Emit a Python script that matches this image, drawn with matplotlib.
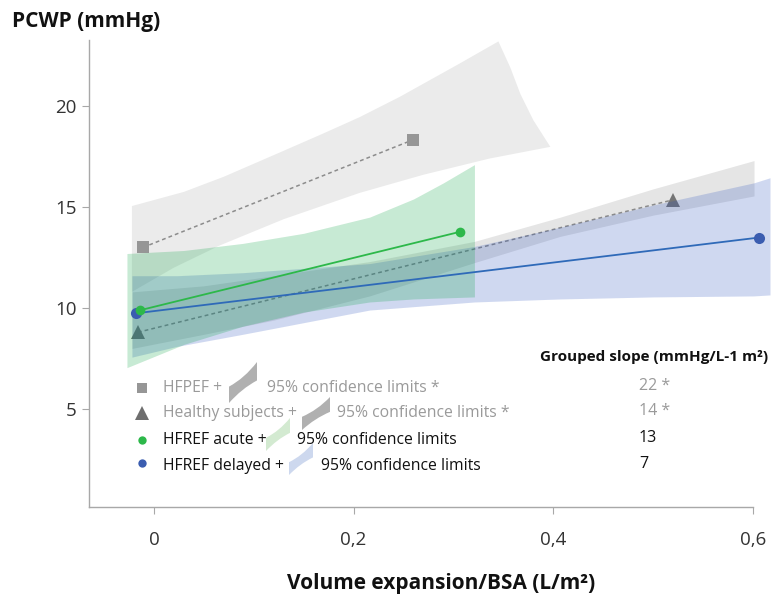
import numpy as np
import matplotlib.pyplot as plt
from matplotlib.path import Path
from matplotlib.patches import PathPatch

plt.rcParams['font.family'] = ['Open Sans', 'DejaVu Sans']

# group end points (volume expansion/BSA, PCWP)
hfpef_x = [-0.011, 0.259]
hfpef_y = [13.0, 18.32]
healthy_x = [-0.016, 0.52]
healthy_y = [8.8, 15.36]
acute_x = [-0.014, 0.307]
acute_y = [9.89, 13.78]
delayed_x = [-0.018, 0.606]
delayed_y = [9.74, 13.49]

# 95% confidence limits
hfpef_up_x = [-0.022, 0.03, 0.07, 0.126, 0.17, 0.206, 0.246, 0.306, 0.345,
              0.357, 0.367, 0.38, 0.397]
hfpef_up_y = [15.05, 15.75, 16.5, 17.7, 18.65, 19.45, 20.45, 22.1, 23.2,
              21.9, 20.6, 19.3, 17.98]
hfpef_lo_x = [0.397, 0.336, 0.27, 0.206, 0.13, 0.066, 0.02, -0.022]
hfpef_lo_y = [17.98, 17.4, 16.6, 15.7, 14.4, 13.1, 12.0, 10.8]

healthy_ci_x = [-0.022, 0.05, 0.12, 0.216, 0.321, 0.407, 0.5, 0.601]
healthy_ci_up = [10.8, 11.1, 11.6, 12.3, 13.3, 14.5, 15.9, 17.3]
healthy_ci_lo = [8.0, 8.7, 9.4, 10.6, 12.25, 13.55, 14.6, 15.55]

acute_ci_x = [-0.027, 0.03, 0.089, 0.15, 0.216, 0.26, 0.29, 0.321]
acute_ci_up = [12.7, 12.85, 13.2, 13.7, 14.5, 15.4, 16.2, 17.1]
acute_ci_lo = [7.05, 8.2, 9.1, 9.8, 10.3, 10.45, 10.5, 10.55]

delayed_ci_x = [-0.022, 0.023, 0.089, 0.216, 0.321, 0.407, 0.5, 0.601, 0.617]
delayed_ci_up = [11.6, 11.6, 11.75, 12.2, 13.05, 14.0, 15.1, 16.2, 16.45]
delayed_ci_lo = [7.57, 8.1, 8.7, 9.9, 10.3, 10.45, 10.55, 10.6, 10.65]

groups = ['HFPEF +', 'Healthy subjects +', 'HFREF acute +', 'HFREF delayed +']
ci_labels = ['95% confidence limits *', '95% confidence limits *',
             '95% confidence limits', '95% confidence limits']
slopes = ['22 *', '14 *', '13', '7']

W, H = 772, 599
fig = plt.figure(figsize=(W / 100, H / 100), dpi=100)
ax = fig.add_axes([89 / W, 1 - 507 / H, (W - 89) / W, (507 - 40) / H])
ax.set_xlim(-0.065, 0.619)
ax.set_ylim(0.15, 23.27)


def fx(px):
    return px / W


def fy(py):
    return 1 - py / H


grey_c = '#969696'
tri_c = '#6e6e6e'
green_c = '#2db84a'
blue_c = '#3b5db0'

# healthy subjects sit underneath the bands
ax.plot(healthy_x, healthy_y, ls=(0, (2.5, 2)), color='#8c8c8c', lw=1.1, zorder=1)
ax.plot(healthy_x, healthy_y, ls='none', marker='^', ms=10.5, color=tri_c,
        markeredgewidth=0, zorder=1)

ax.fill(hfpef_up_x + hfpef_lo_x, hfpef_up_y + hfpef_lo_y, color='#969696',
        alpha=0.19, lw=0, zorder=2)
ax.fill_between(healthy_ci_x, healthy_ci_lo, healthy_ci_up, color='#8a8a8a',
                alpha=0.22, lw=0, zorder=2)
ax.fill_between(delayed_ci_x, delayed_ci_lo, delayed_ci_up, color='#2850be',
                alpha=0.22, lw=0, zorder=2)
ax.fill_between(acute_ci_x, acute_ci_lo, acute_ci_up, color='#00a03c',
                alpha=0.22, lw=0, zorder=2)

ax.plot(hfpef_x, hfpef_y, ls=(0, (2.5, 2)), color='#8c8c8c', lw=1.1, zorder=3)
ax.plot(hfpef_x, hfpef_y, ls='none', marker='s', ms=8, color=grey_c,
        markeredgewidth=0, zorder=3)
ax.plot(acute_x, acute_y, color=green_c, lw=1.3, marker='o', ms=7,
        markeredgewidth=0, zorder=4)
ax.plot(delayed_x, delayed_y, color='#2f6ab8', lw=1.3, zorder=3)
ax.plot(delayed_x, delayed_y, ls='none', marker='o', ms=8, color=blue_c,
        markeredgewidth=0, zorder=3)

# axes styling
for s in ['top', 'right']:
    ax.spines[s].set_visible(False)
for s in ['left', 'bottom']:
    ax.spines[s].set_color('#a8a8a8')
    ax.spines[s].set_linewidth(1.0)
ax.spines['bottom'].set_bounds(-0.065, 0.6)
ax.set_xticks([0, 0.2, 0.4, 0.6])
ax.set_xticklabels(['0', '0,2', '0,4', '0,6'])
ax.set_yticks([5, 10, 15, 20])
ax.tick_params(axis='x', length=5, width=0.8, color='#a8a8a8', pad=12,
               labelsize=13.5, labelcolor='#333333')
ax.tick_params(axis='y', length=5, width=0.8, color='#a8a8a8', pad=4,
               labelsize=13.5, labelcolor='#333333')

fig.text(fx(12), fy(22), 'PCWP (mmHg)', fontsize=15, fontweight='bold',
         ha='left', va='center', color='#111111')
fig.text(fx(441), fy(584), 'Volume expansion/BSA (L/m²)', fontsize=15,
         fontweight='bold', ha='center', va='center', color='#111111')


def swoosh(x0, y0, w, h, color):
    # small band-shaped key drawn in pixel units (x0, y0 = lower-left)
    pts = [(0, 0), (0, 0.4), (0.55, 0.6), (1, 1), (1, 0.55), (0.45, 0.35), (0, 0)]
    verts = [(fx(x0 + w * u), fy(y0 - h * v)) for u, v in pts]
    codes = [Path.MOVETO, Path.LINETO, Path.CURVE3, Path.CURVE3,
             Path.LINETO, Path.CURVE3, Path.CURVE3]
    fig.add_artist(PathPatch(Path(verts, codes), facecolor=color, lw=0,
                             transform=fig.transFigure))


# key rows
row_y = [388, 413, 440, 466]
text_c = ['#9a9a9a', '#9a9a9a', '#111111', '#111111']
key_m = [('s', 7, grey_c), ('^', 10, tri_c), ('o', 6, green_c), ('o', 6, blue_c)]
key_dy = [0, 0, 0, -3]
icon_box = [(229, 403, 28, 41, '#b0b0b0'), (302, 430, 28, 33, '#b0b0b0'),
            (266, 451, 24, 33, '#d3ead1'), (289, 475, 24, 32, '#cdd8ee')]
ci_x = [267, 337, 297, 321]

for i in range(4):
    m, ms, c = key_m[i]
    fig.add_artist(plt.Line2D([fx(142)], [fy(row_y[i] + key_dy[i])], marker=m,
                              ms=ms, color=c, markeredgewidth=0, ls='none',
                              transform=fig.transFigure))
    fig.text(fx(163), fy(row_y[i]), groups[i], fontsize=11.3, color=text_c[i],
             ha='left', va='center')
    swoosh(*icon_box[i])
    fig.text(fx(ci_x[i]), fy(row_y[i]), ci_labels[i], fontsize=11.3,
             color=text_c[i], ha='left', va='center')
    fig.text(fx(639), fy(row_y[i] - 2), slopes[i], fontsize=11.5,
             color=text_c[i], ha='left', va='center')

fig.text(fx(540), fy(357), 'Grouped slope (mmHg/L-1 m²)', fontsize=11,
         fontweight='bold', ha='left', va='center', color='#111111')

fig.savefig('out.png', dpi=100)
